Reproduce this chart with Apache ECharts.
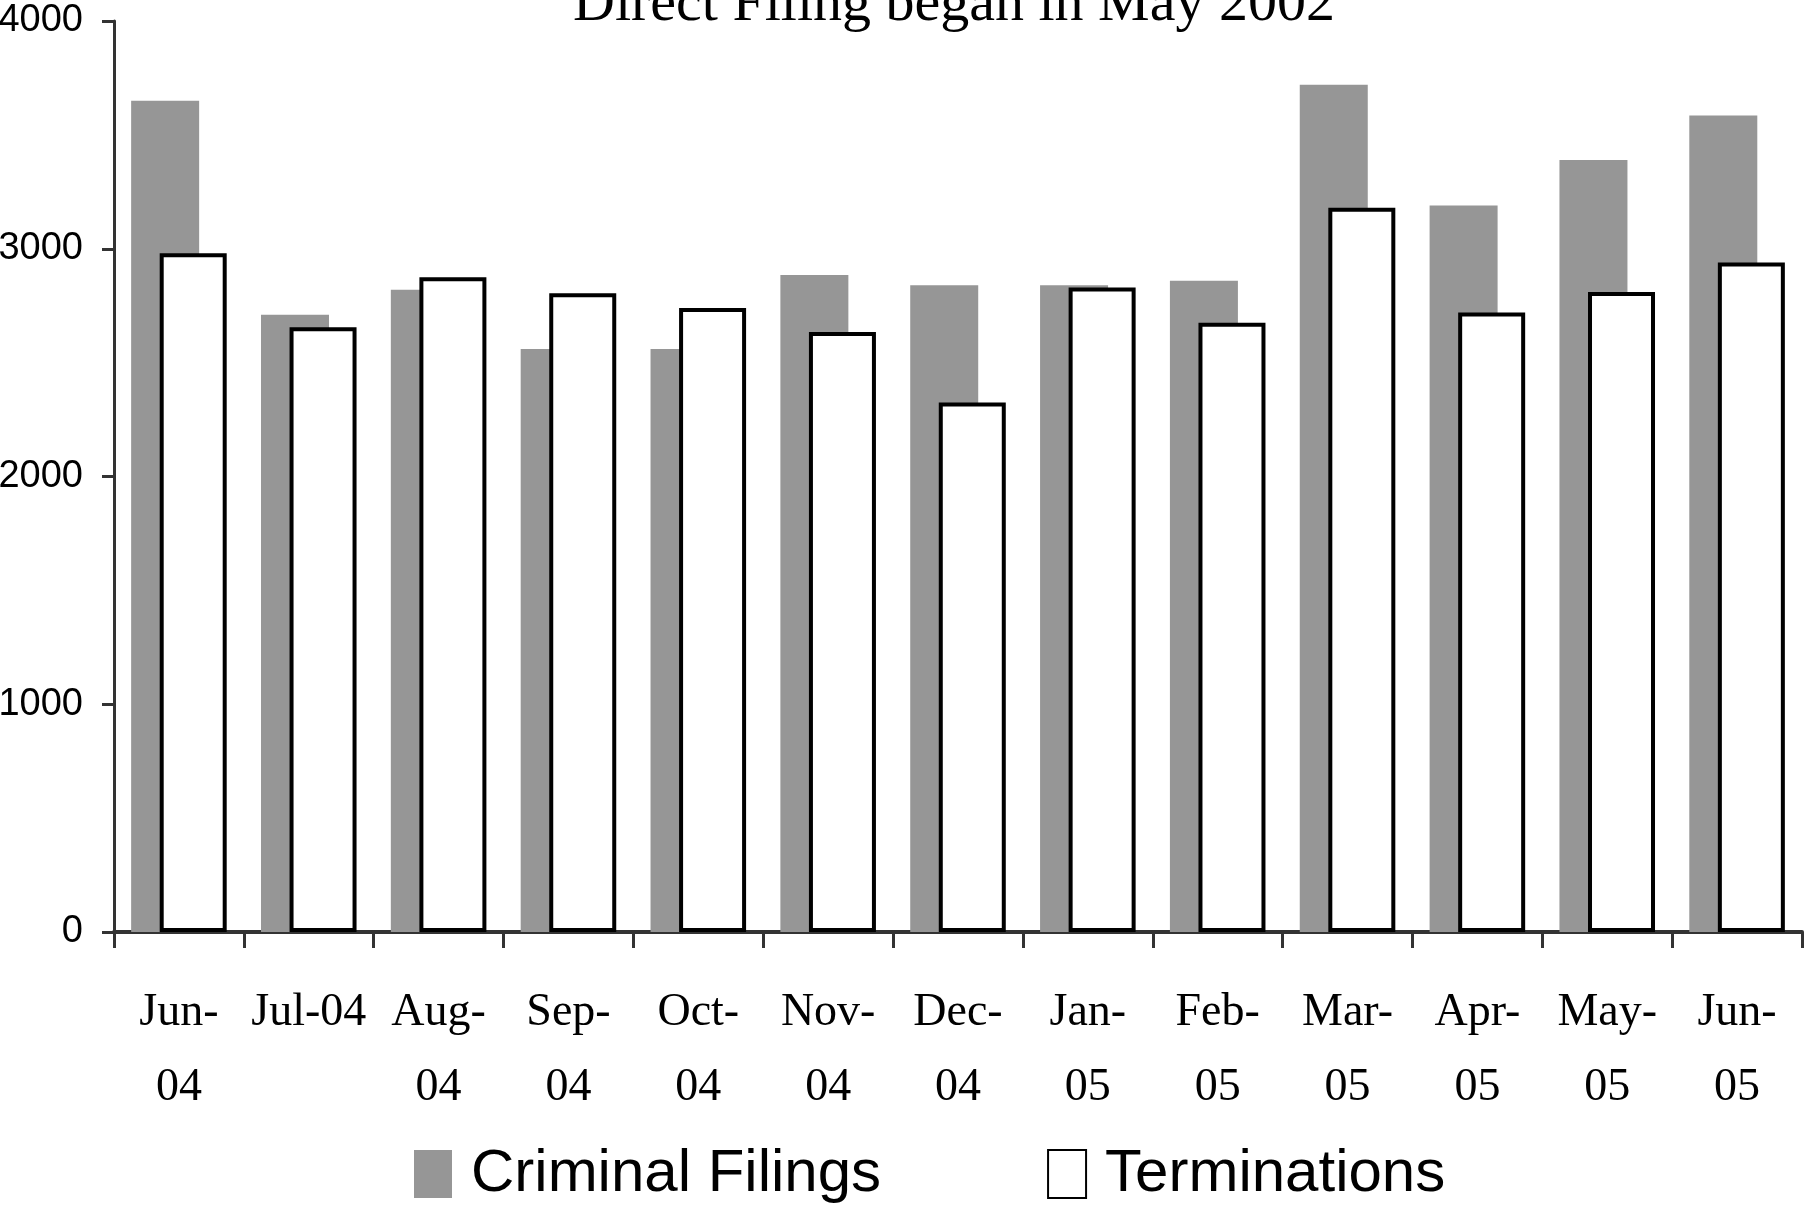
<!DOCTYPE html>
<html>
<head>
<meta charset="utf-8">
<script src="https://cdn.jsdelivr.net/npm/echarts@6/dist/echarts.min.js"></script>
<style>
  html, body { margin: 0; padding: 0; background: #fff; }
  #draw-area { width: 1805px; height: 1212px; }
</style>
</head>
<body>
<div id="draw-area"></div>
<script>
const MONTHS = [
  'Jun-\n04', 'Jul-04', 'Aug-\n04', 'Sep-\n04', 'Oct-\n04', 'Nov-\n04', 'Dec-\n04',
  'Jan-\n05', 'Feb-\n05', 'Mar-\n05', 'Apr-\n05', 'May-\n05', 'Jun-\n05'
]

const CRIMINAL_FILINGS = [3650, 2710, 2820, 2560, 2560, 2885, 2840, 2840, 2860, 3720, 3190, 3390, 3585]
const TERMINATIONS = [2980, 2655, 2875, 2805, 2740, 2635, 2325, 2830, 2675, 3180, 2720, 2810, 2940]

const Y_TICKS = [0, 1000, 2000, 3000, 4000]

const SANS = "'Liberation Sans Narrow', 'Arial Narrow', 'Liberation Sans', sans-serif"
const SERIF = "'Liberation Serif', 'Times New Roman', serif"

function draw() {
  const dom = document.getElementById('draw-area')
  const myChart = echarts.init(dom)

  const option = {
    animation: false,
    backgroundColor: '#fff',
    title: {
      text: 'Direct Filing began in May 2002',
      left: 573,
      top: -24,
      padding: 0,
      textStyle: {
        fontFamily: SERIF,
        fontSize: 58,
        fontWeight: 'normal',
        color: '#000'
      }
    },
    legend: {
      left: 414,
      top: 1144,
      padding: 0,
      itemGap: 166,
      itemWidth: 38,
      itemHeight: 48,
      icon: 'rect',
      textStyle: {
        fontFamily: SANS,
        fontSize: 60,
        color: '#000',
        padding: [0, 0, 0, 14]
      },
      data: ['Criminal Filings', 'Terminations']
    },
    grid: {
      left: 114,
      right: 3,
      top: 21,
      bottom: 280,
      containLabel: false,
      outerBoundsMode: 'none'
    },
    xAxis: {
      type: 'category',
      data: MONTHS,
      boundaryGap: true,
      axisLine: { lineStyle: { color: '#333', width: 4 } },
      axisTick: {
        show: true,
        alignWithLabel: false,
        length: 16,
        lineStyle: { color: '#333', width: 3 }
      },
      axisLabel: {
        interval: 0,
        margin: 43,
        fontFamily: SERIF,
        fontSize: 46,
        lineHeight: 75,
        color: '#000'
      }
    },
    yAxis: {
      type: 'value',
      min: Y_TICKS[0],
      max: Y_TICKS[Y_TICKS.length - 1],
      interval: 1000,
      splitLine: { show: false },
      axisLine: { show: true, lineStyle: { color: '#333', width: 3 } },
      axisTick: { show: true, length: 12, lineStyle: { color: '#333', width: 3 } },
      axisLabel: {
        margin: 31,
        fontFamily: SANS,
        fontSize: 38,
        color: '#000',
        formatter: function (v) { return String(v) }
      }
    },
    series: [
      {
        name: 'Criminal Filings',
        type: 'bar',
        barWidth: 68,
        barGap: '-58%',
        itemStyle: { color: '#969696' },
        data: CRIMINAL_FILINGS
      },
      {
        name: 'Terminations',
        type: 'bar',
        barWidth: 67,
        itemStyle: {
          color: '#fff',
          borderColor: '#000',
          borderWidth: 4
        },
        data: TERMINATIONS
      }
    ]
  }

  myChart.setOption(option)
}

draw()
</script>
</body>
</html>
